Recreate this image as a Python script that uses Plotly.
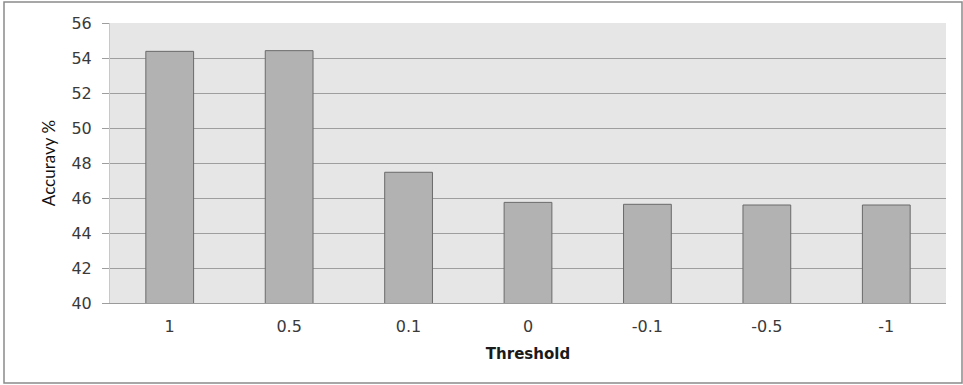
import plotly.graph_objects as go

thresholds = ["1", "0.5", "0.1", "0", "-0.1", "-0.5", "-1"]
accuracy = [54.38, 54.42, 47.47, 45.75, 45.64, 45.6, 45.6]
y_ticks = [40, 42, 44, 46, 48, 50, 52, 54, 56]

fig = go.Figure()
fig.add_trace(go.Bar(
    x=thresholds, y=accuracy,
    marker=dict(color="#b2b2b2", line=dict(color="#6a6a6a", width=1)),
    width=0.4,
))

tick_font = dict(family="'DejaVu Sans', sans-serif", size=16, color="#3a3a3a")
fig.update_layout(
    width=963, height=385,
    margin=dict(l=110, r=17, t=23, b=82),
    paper_bgcolor="white",
    plot_bgcolor="#e6e6e6",
    showlegend=False,
    font=dict(family="Lato, sans-serif", size=14, color="#333333"),
    xaxis=dict(
        type="category",
        showgrid=False,
        showline=True, linecolor="#9a9a9a", linewidth=1,
        ticks="", tickfont=tick_font, ticklabelstandoff=9,
        title=dict(text="<b>Threshold</b>",
                   font=dict(family="'DejaVu Sans', sans-serif", size=15, color="#1a1a1a"),
                   standoff=13),
    ),
    yaxis=dict(
        range=[40, 56],
        tickvals=y_ticks,
        showgrid=True, gridcolor="#9e9e9e", gridwidth=1,
        showline=True, linecolor="#c8c8c8", linewidth=1,
        ticks="outside", ticklen=7, tickcolor="#9e9e9e",
        tickfont=tick_font, ticklabelstandoff=7,
        zeroline=False,
        title=dict(text="Accuravy %", font=dict(family="Lato, sans-serif", size=17, color="#111111"),
                   standoff=11),
    ),
    shapes=[dict(
        type="rect", xref="paper", yref="paper",
        x0=(4 - 110) / 836, x1=(962 - 110) / 836,
        y0=(303 - 383) / 280, y1=(303 - 2) / 280,
        line=dict(color="#8a8a8a", width=1.5), fillcolor="rgba(0,0,0,0)",
        layer="below",
    )],
)

fig.write_html("out.html")
